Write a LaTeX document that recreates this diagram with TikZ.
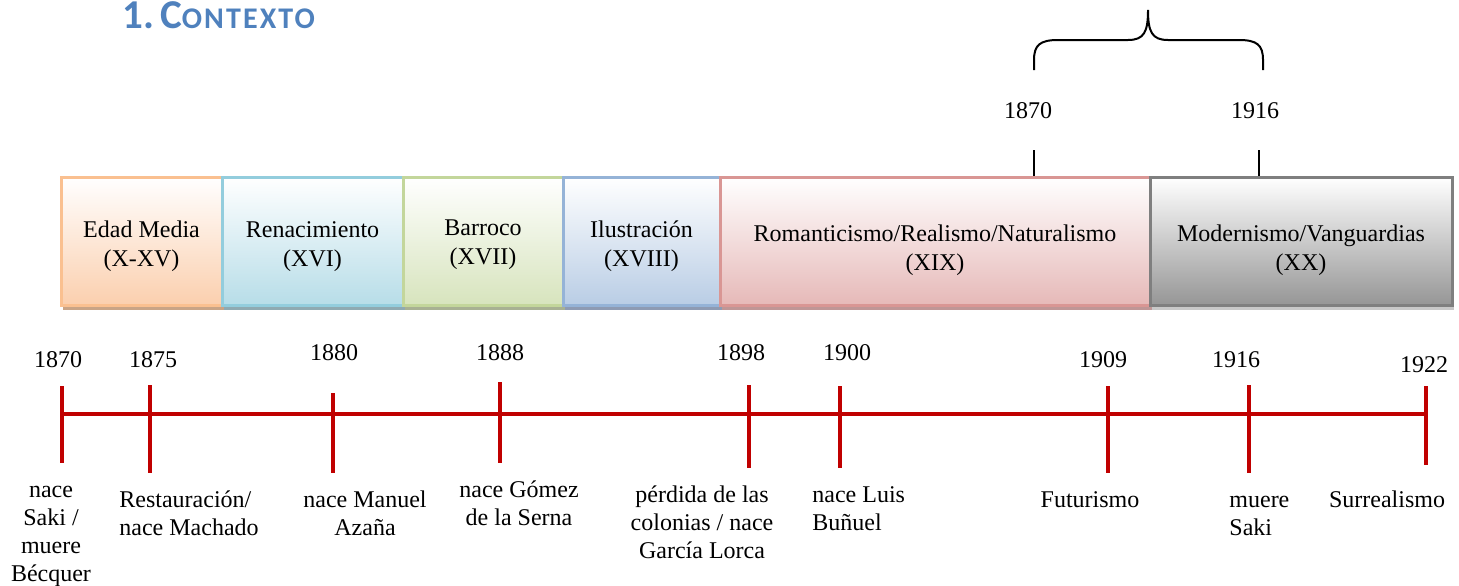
\documentclass[tikz,border=0pt]{standalone}
\usepackage{fontspec}
\setmainfont{Liberation Serif}
\newfontfamily\titulofont{Carlito}
\usetikzlibrary{shadows}

\definecolor{rojo}{HTML}{C00000}
\definecolor{azultit}{HTML}{4F81BD}
\definecolor{edadB}{HTML}{FAC090}\definecolor{edadF}{HTML}{FBCFAE}\definecolor{edadS}{HTML}{C9A486}
\definecolor{renaB}{HTML}{93CDDD}\definecolor{renaF}{HTML}{B7DDE8}\definecolor{renaS}{HTML}{8FAAB2}
\definecolor{barrB}{HTML}{C3D69B}\definecolor{barrF}{HTML}{D7E4BD}\definecolor{barrS}{HTML}{A8B193}
\definecolor{ilusB}{HTML}{95B3D7}\definecolor{ilusF}{HTML}{B9CDE5}\definecolor{ilusS}{HTML}{8E9BB3}
\definecolor{romaB}{HTML}{D99694}\definecolor{romaF}{HTML}{E6B9B8}\definecolor{romaS}{HTML}{BF9696}
\definecolor{modeB}{HTML}{7F7F7F}\definecolor{modeF}{HTML}{969696}\definecolor{modeS}{HTML}{C8C8C8}

\newcommand{\baja}[1]{\rule{0pt}{#1}}

\tikzset{
  epoca/.style={draw=#1B, top color=white, bottom color=#1F, line width=1.5pt,
    minimum height=64pt, inner sep=0pt, align=center,
    font=\fontsize{12}{14.5}\selectfont,
    drop shadow={shadow xshift=1pt, shadow yshift=-2.5pt, fill=#1S, opacity=1}},
  anio/.style={anchor=base, inner sep=0pt, font=\fontsize{12}{14}\selectfont},
  suceso/.style={anchor=north, align=center, inner sep=0pt, font=\fontsize{12}{14}\selectfont},
  hito/.style={draw=rojo, line width=2pt},
  eje/.style={draw=rojo, line width=2pt},
  marca/.style={draw=black, line width=1pt}
}

\begin{document}
\begin{tikzpicture}[x=0.5pt, y=-0.5pt]
\useasboundingbox (0,0) rectangle (1459,585);

\node[anchor=base west, inner sep=0pt, text=azultit, font=\titulofont\bfseries] (titulo) at (122,28)
  {{\fontsize{20.5}{21}\selectfont 1.\hspace{3pt}C}{\fontsize{15}{15}\selectfont\addfontfeature{LetterSpace=7}ONTEXTO}};

\node[epoca=edad, minimum width=80.5pt] (edad) at (141.5,241) {\baja{13.2pt}Edad Media\\(X-XV)};
\node[epoca=rena, minimum width=90.5pt] (rena) at (312.5,241) {\baja{13.2pt}Renacimiento\\(XVI)};
\node[epoca=barr, minimum width=80pt] (barr) at (483,241) {\baja{11.2pt}Barroco\\(XVII)};
\node[epoca=ilus, minimum width=78.5pt] (ilus) at (641.5,241) {\baja{13.2pt}Ilustración\\(XVIII)};
\node[epoca=roma, minimum width=215pt] (roma) at (935,241) {\baja{17.2pt}Romanticismo/Realismo/Naturalismo\\(XIX)};
\node[epoca=mode, minimum width=151pt] (mode) at (1301,241) {\baja{17.2pt}Modernismo/Vanguardias\\(XX)};

\node[anio] (c1870) at (1028,118) {1870};
\node[anio] (c1916) at (1255,118) {1916};
\coordinate (m1870) at (1034,150);
\coordinate (m1916) at (1259,150);
\draw[marca] (m1870) -- (m1870 |- roma.north);
\draw[marca] (m1916) -- (m1916 |- mode.north);

\coordinate (lla) at (1034,70);
\coordinate (llb) at (1263,70);
\coordinate (pico) at (1148,10);
\draw[line width=1pt] (lla) -- (1034,60) .. controls (1034,45) and (1040,40) .. (1058,40) -- (1128,40)
  .. controls (1144,40) and (1148,32) .. (pico)
  .. controls (1148,32) and (1152,40) .. (1168,40) -- (1239,40)
  .. controls (1257,40) and (1263,45) .. (1263,60) -- (llb);

\foreach \a/\x/\t/\b/\lx/\ly in {1870/62/386/463/58/367, 1875/150/385/473/153/367,
    1880/333/393/473/334/360, 1888/500/382/463/500/360, 1898/749/385/468/741/360,
    1900/840/386/468/847/360, 1909/1108/386/473/1103/367, 1916/1249/385/473/1236/367,
    1922/1426/386/465/1424/372} {
  \coordinate (t\a) at (\x,\t);
  \coordinate (b\a) at (\x,\b);
  \coordinate (e\a) at (\x,414);
  \draw[hito] (t\a) -- (b\a);
  \node[anio] (n\a) at (\lx,\ly) {\a};
}
\draw[eje] (e1870) -- (e1922);

\node[suceso] (ev1870) at (51,477.4) {\strut nace\\Saki /\\muere\\Bécquer};
\node[suceso, anchor=north west, align=left] (ev1875) at (119,487.4) {\strut Restauración/\\nace Machado};
\node[suceso] (ev1880) at (365,487.4) {\strut nace Manuel\\Azaña};
\node[suceso] (ev1888) at (519,477.4) {\strut nace Gómez\\de la Serna};
\node[suceso] (ev1898) at (702,482.4) {\strut pérdida de las\\colonias / nace\\García Lorca};
\node[suceso, anchor=north west, align=left] (ev1900) at (812,482.4) {\strut nace Luis\\Buñuel};
\node[suceso] (ev1909) at (1090,487.4) {\strut Futurismo};
\node[suceso, anchor=north west, align=left] (ev1916) at (1229,487.4) {\strut muere\\Saki};
\node[suceso] (ev1922) at (1387,487.4) {\strut Surrealismo};
\end{tikzpicture}
\end{document}
